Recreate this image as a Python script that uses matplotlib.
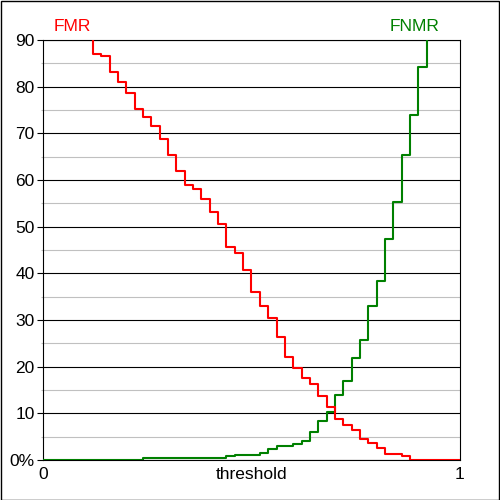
import numpy as np
import matplotlib
matplotlib.use("Agg")
import matplotlib.pyplot as plt
from matplotlib.patches import Rectangle
from matplotlib.ticker import MultipleLocator

thresholds = [round(0.02 * i, 2) for i in range(51)]

fmr = [100, 99.8, 99.5, 99, 98, 96, 87.1, 86.6, 83.2, 81.0,
       78.6, 75.3, 73.4, 71.6, 68.7, 65.4, 61.9, 58.9, 58.0, 55.9,
       53.2, 50.5, 45.7, 44.3, 40.7, 35.9, 33.1, 30.4, 26.4, 22.1,
       19.8, 17.5, 16.2, 13.8, 11.4, 8.7, 7.5, 6.4, 4.4, 3.7,
       2.5, 1.3, 1.3, 0.86, 0, 0, 0, 0, 0, 0, 0]

fnmr = [0, 0, 0, 0, 0, 0, 0, 0, 0, 0,
        0, 0, 0.4, 0.4, 0.4, 0.4, 0.4, 0.4, 0.4, 0.4,
        0.4, 0.4, 0.8, 1.1, 1.1, 1.1, 1.6, 2.4, 3.1, 3.1,
        3.5, 4.0, 5.9, 8.4, 10.3, 13.9, 16.9, 21.9, 25.7, 32.9,
        38.4, 47.4, 55.3, 65.4, 73.9, 84.3, 92, 95, 97, 99, 100]

y_ticks = [0, 10, 20, 30, 40, 50, 60, 70, 80, 90]
y_labels = ["0%", "10", "20", "30", "40", "50", "60", "70", "80", "90"]
x_ticks = [0, 1]
x_labels = ["0", "1"]

plt.rcParams['font.family'] = ['Liberation Sans', 'DejaVu Sans']
FS = 12.5

fig = plt.figure(figsize=(5, 5), dpi=100)
ax = fig.add_axes([0.086, 0.08, 0.834, 0.84])

ax.plot(thresholds, fnmr, drawstyle='steps-post', color='#008000', lw=1.5, zorder=3)
ax.plot(thresholds, fmr, drawstyle='steps-post', color='#FF0000', lw=1.5, zorder=4)

ax.set_xlim(0, 1)
ax.set_ylim(0, 90)
ax.set_yticks(y_ticks)
ax.set_yticklabels(y_labels)
ax.yaxis.set_minor_locator(MultipleLocator(5))
ax.set_xticks(x_ticks)
ax.set_xticklabels(x_labels)

ax.grid(which='major', axis='y', color='black', lw=0.8, zorder=1)
ax.grid(which='minor', axis='y', color='#C0C0C0', lw=0.8, zorder=1)
ax.set_axisbelow(True)

ax.tick_params(axis='y', which='major', length=4, width=0.8, color='black',
               labelsize=FS, pad=2)
ax.tick_params(axis='y', which='minor', length=1.5, width=0.8, color='#C0C0C0')
ax.tick_params(axis='x', which='major', length=0, labelsize=FS, pad=5)

for s in ax.spines.values():
    s.set_color('black')
    s.set_linewidth(0.8)

ax.set_xlabel('threshold', fontsize=FS, labelpad=-11)

ax.text(0.025, 1.032, 'FMR', color='#FF0000', fontsize=FS,
        transform=ax.transAxes, ha='left', va='center')
ax.text(0.95, 1.032, 'FNMR', color='#008000', fontsize=FS,
        transform=ax.transAxes, ha='right', va='center')

fig.add_artist(Rectangle((0.001, 0.001), 0.997, 0.997, transform=fig.transFigure,
                         fill=False, lw=1, ec='black'))

fig.savefig('out.png', dpi=100)
